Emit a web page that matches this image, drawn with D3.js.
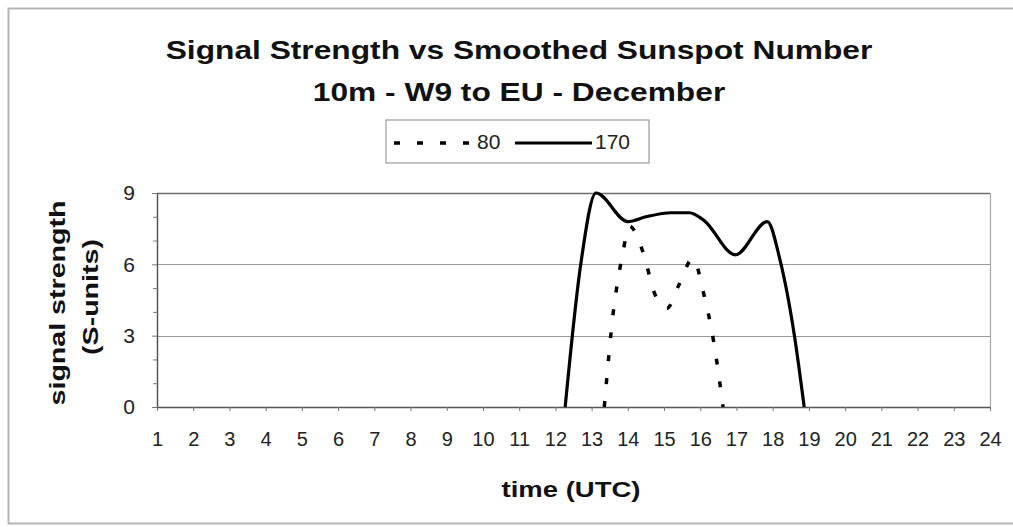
<!DOCTYPE html>
<html>
<head>
<meta charset="utf-8">
<script src="https://cdn.jsdelivr.net/npm/d3@7"></script>
<style>
  body { margin: 0; background: #fff; }
  svg { display: block; font-family: "Liberation Sans", Arial, sans-serif; }
</style>
</head>
<body>
<script>
// data
var titleLines = ["Signal Strength vs Smoothed Sunspot Number", "10m - W9 to EU - December"];
var hourTicks = [1, 2, 3, 4, 5, 6, 7, 8, 9, 10, 11, 12, 13, 14, 15, 16, 17, 18, 19, 20, 21, 22, 23, 24];
var sTicks = [0, 3, 6, 9];
var sMinorTicks = [1, 2, 4, 5, 7, 8];
var seriesNames = ["80", "170"];

// sunspot number 80 (dashed)
var time80 = [13.35, 13.6, 13.84, 14.05, 14.4, 14.76, 15.08, 15.4, 15.8, 16.09, 16.37, 16.63];
var sig80 = [0, 4.0, 6.3, 7.6, 6.6, 4.7, 4.15, 5.1, 6.25, 4.8, 2.75, 0];

// sunspot number 170 (solid)
var time170 = [12.27, 12.7, 13.12, 14.0, 14.5, 15.2, 15.7, 16.1, 16.97, 17.85, 18.2, 18.6, 18.87];
var sig170 = [0, 6.0, 9.0, 7.8, 8.0, 8.17, 8.17, 7.85, 6.4, 7.8, 6.2, 3.0, 0];

var W = 1013, H = 527;
var plot = { left: 157, right: 990, top: 193, bottom: 407 };

var svg = d3.select("body").append("svg")
    .attr("width", W)
    .attr("height", H);

// chart area border (right side runs off the picture)
svg.append("rect")
    .attr("x", 8.5).attr("y", 8.5)
    .attr("width", W + 10).attr("height", 515)
    .attr("fill", "#fff")
    .attr("stroke", "#b5b5b5")
    .attr("stroke-width", 2);

var x = d3.scaleLinear().domain([1, 24]).range([plot.left, plot.right]);
var y = d3.scaleLinear().domain([0, 9]).range([plot.bottom, plot.top]);

// titles
svg.selectAll(".title")
    .data(titleLines)
    .enter().append("text")
    .attr("class", "title")
    .attr("transform", function (d, i) {
        return "translate(519," + (59 + i * 42) + ") scale(1.22,1)";
    })
    .attr("text-anchor", "middle")
    .attr("font-size", 26)
    .attr("font-weight", "bold")
    .attr("fill", "#111")
    .text(function (d) { return d; });

// grid lines
svg.append("g")
    .selectAll("line")
    .data(sTicks.slice(1))
    .enter().append("line")
    .attr("x1", plot.left).attr("x2", plot.right)
    .attr("y1", function (d) { return Math.round(y(d)) + 0.5; })
    .attr("y2", function (d) { return Math.round(y(d)) + 0.5; })
    .attr("stroke", function (d) { return d === 9 ? "#6e6e6e" : "#9a9a9a"; })
    .attr("stroke-width", function (d) { return d === 9 ? 1.5 : 1.2; });

// right border of plot
svg.append("line")
    .attr("x1", plot.right + 0.5).attr("x2", plot.right + 0.5)
    .attr("y1", plot.top).attr("y2", plot.bottom)
    .attr("stroke", "#a8a8a8")
    .attr("stroke-width", 1.2);

// axes
var xAxis = svg.append("g")
    .attr("transform", "translate(0," + plot.bottom + ")")
    .call(d3.axisBottom(x).tickValues(hourTicks).tickSize(4).tickPadding(21).tickSizeOuter(0));

var yAxis = svg.append("g")
    .attr("transform", "translate(" + plot.left + ",0)")
    .call(d3.axisLeft(y).tickValues(sTicks).tickSize(5).tickPadding(17).tickSizeOuter(0));

svg.append("g")
    .attr("transform", "translate(" + plot.left + ",0)")
    .call(d3.axisLeft(y).tickValues(sMinorTicks).tickSize(4).tickFormat("").tickSizeOuter(0))
    .select(".domain").remove();

svg.selectAll(".domain").attr("stroke", "#555").attr("stroke-width", 1.5);
svg.selectAll(".tick line").attr("stroke", "#777");
svg.selectAll(".tick text")
    .attr("font-family", "'Liberation Sans', Arial, sans-serif")
    .attr("fill", "#222");
xAxis.selectAll(".tick text").attr("font-size", 20);
yAxis.selectAll(".tick text").attr("font-size", 21);

// axis titles
svg.append("text")
    .attr("transform", "translate(571,497) scale(1.25,1)")
    .attr("text-anchor", "middle")
    .attr("font-size", 22)
    .attr("font-weight", "bold")
    .attr("fill", "#111")
    .text("time (UTC)");

var yTitle = svg.append("g")
    .attr("font-size", 22)
    .attr("font-weight", "bold")
    .attr("fill", "#111")
    .attr("text-anchor", "middle");
yTitle.append("text")
    .attr("transform", "translate(65,303) rotate(-90) scale(1.3,1)")
    .text("signal strength");
yTitle.append("text")
    .attr("transform", "translate(98,297) rotate(-90) scale(1.3,1)")
    .text("(S-units)");

// lines
svg.append("clipPath").attr("id", "clip")
    .append("rect")
    .attr("x", plot.left).attr("y", plot.top - 2)
    .attr("width", plot.right - plot.left).attr("height", plot.bottom - plot.top + 2);

var line = d3.line()
    .x(function (d) { return x(d[0]); })
    .y(function (d) { return y(d[1]); })
    .curve(d3.curveMonotoneX);

var series = [
    { name: seriesNames[0], pts: d3.zip(time80, sig80), dash: "6,17", width: 3.5 },
    { name: seriesNames[1], pts: d3.zip(time170, sig170), dash: null, width: 3.2 }
];

svg.append("g")
    .attr("clip-path", "url(#clip)")
    .selectAll("path")
    .data(series)
    .enter().append("path")
    .attr("d", function (d) { return line(d.pts); })
    .attr("fill", "none")
    .attr("stroke", "#000")
    .attr("stroke-width", function (d) { return d.width; })
    .attr("stroke-dasharray", function (d) { return d.dash; })
    .attr("stroke-linejoin", "round");

// legend
var legend = svg.append("g").attr("transform", "translate(386,120)");
legend.append("rect")
    .attr("width", 263).attr("height", 43)
    .attr("fill", "#fff")
    .attr("stroke", "#9a9a9a")
    .attr("stroke-width", 1.2);

var item = legend.selectAll(".item")
    .data(series)
    .enter().append("g")
    .attr("class", "item")
    .attr("transform", function (d, i) { return "translate(" + (8 + i * 121) + ",0)"; });

item.append("line")
    .attr("x1", 0).attr("x2", function (d, i) { return i === 0 ? 78 : 77; })
    .attr("y1", 23).attr("y2", 23)
    .attr("stroke", "#000")
    .attr("stroke-width", function (d) { return d.width; })
    .attr("stroke-dasharray", function (d) { return d.dash; });

item.append("text")
    .attr("x", function (d, i) { return i === 0 ? 83 : 80; })
    .attr("y", 29)
    .attr("font-size", 21)
    .attr("fill", "#222")
    .text(function (d) { return d.name; });
</script>
</body>
</html>
